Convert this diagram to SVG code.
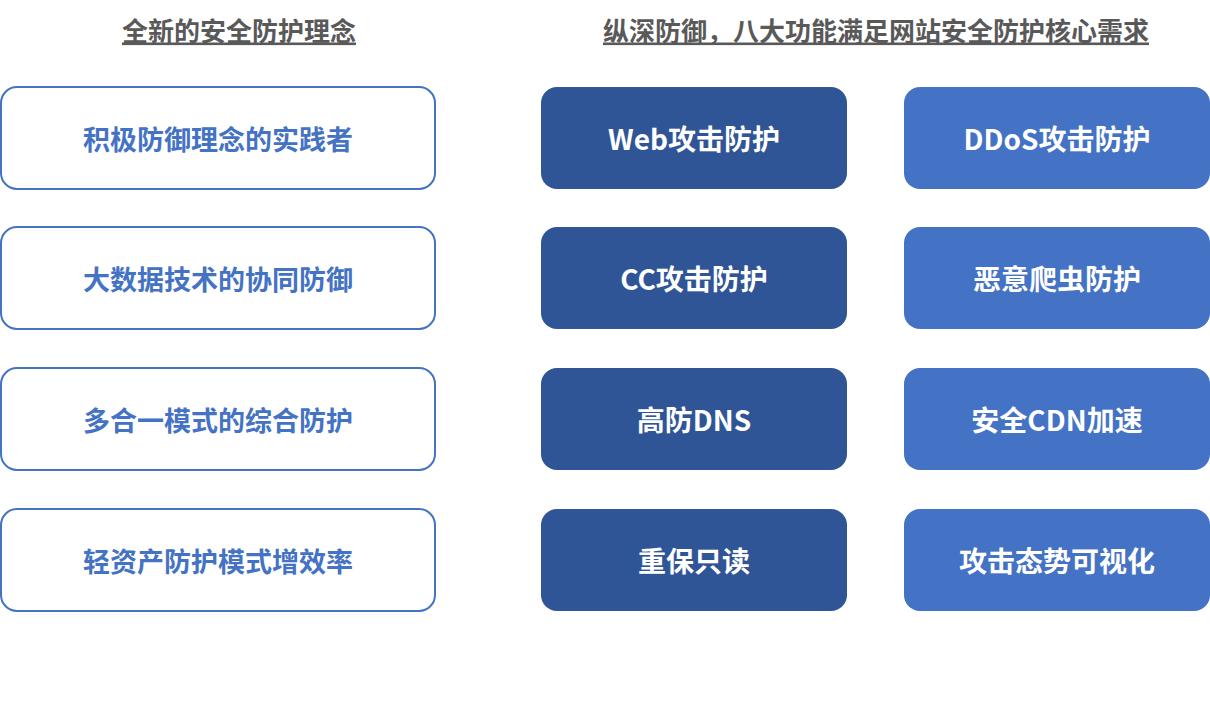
<svg xmlns="http://www.w3.org/2000/svg" width="1210" height="714" viewBox="0 0 1210 714">
<style>
text{font-family:"Noto Sans CJK SC","Noto Sans",sans-serif;font-weight:bold;text-anchor:middle;dominant-baseline:central}
.h{fill:#595959;font-size:26px;text-decoration:underline}
.l rect{fill:#fff;stroke:#4472C4;stroke-width:2}
.l text{fill:#4472C4;font-size:27px}
.m rect{fill:#2F5597}
.r rect{fill:#4472C4}
.m text,.r text{fill:#fff;font-size:28px}
</style>
<rect width="1210" height="714" fill="#fff"/>
<text class="h" x="239" y="29">全新的安全防护理念</text>
<text class="h" x="876" y="29">纵深防御，八大功能满足网站安全防护核心需求</text>
<g id="l1" class="l"><rect x="1" y="87" width="434" height="102" rx="16"/><text x="218" y="138">积极防御理念的实践者</text></g>
<g id="l2" class="l"><rect x="1" y="227" width="434" height="102" rx="16"/><text x="218" y="278">大数据技术的协同防御</text></g>
<g id="l3" class="l"><rect x="1" y="368" width="434" height="102" rx="16"/><text x="218" y="419">多合一模式的综合防护</text></g>
<g id="l4" class="l"><rect x="1" y="509" width="434" height="102" rx="16"/><text x="218" y="560">轻资产防护模式增效率</text></g>
<g id="m1" class="m"><rect x="541" y="87" width="306" height="102" rx="16"/><text x="694" y="138">Web攻击防护</text></g>
<g id="m2" class="m"><rect x="541" y="227" width="306" height="102" rx="16"/><text x="694" y="278">CC攻击防护</text></g>
<g id="m3" class="m"><rect x="541" y="368" width="306" height="102" rx="16"/><text x="694" y="419">高防DNS</text></g>
<g id="m4" class="m"><rect x="541" y="509" width="306" height="102" rx="16"/><text x="694" y="560">重保只读</text></g>
<g id="r1" class="r"><rect x="904" y="87" width="306" height="102" rx="16"/><text x="1057" y="138">DDoS攻击防护</text></g>
<g id="r2" class="r"><rect x="904" y="227" width="306" height="102" rx="16"/><text x="1057" y="278">恶意爬虫防护</text></g>
<g id="r3" class="r"><rect x="904" y="368" width="306" height="102" rx="16"/><text x="1057" y="419">安全CDN加速</text></g>
<g id="r4" class="r"><rect x="904" y="509" width="306" height="102" rx="16"/><text x="1057" y="560">攻击态势可视化</text></g>
<g id="connectors"/>
</svg>
